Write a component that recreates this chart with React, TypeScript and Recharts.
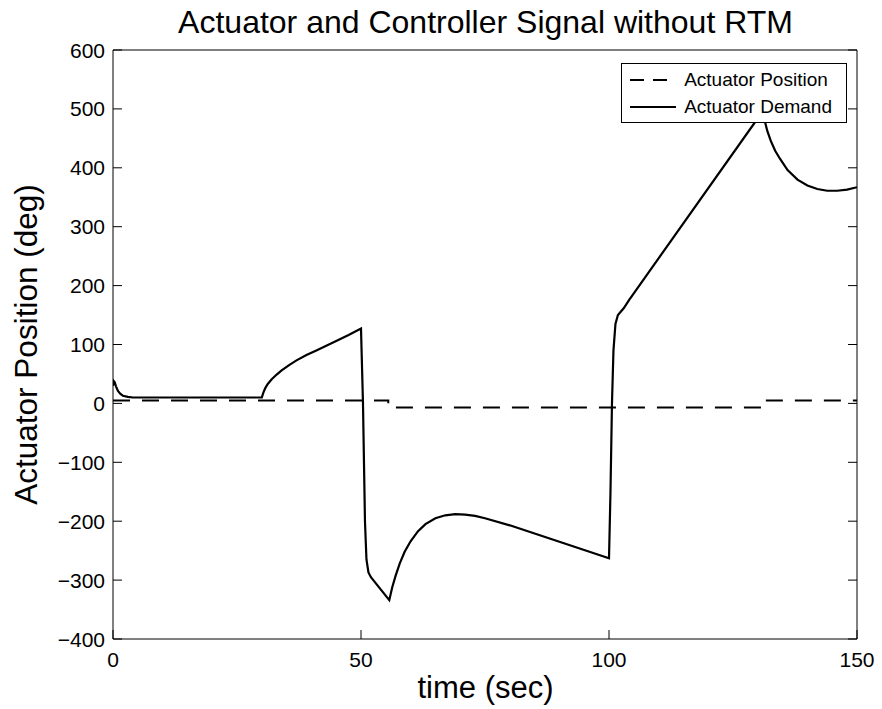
import React from "react";
import { LineChart, Line, XAxis, YAxis, Legend } from "recharts";

// time (sec) / actuator demand (deg)
const demandTime = [
  0, 0.15, 0.35, 0.6, 1, 1.5, 2, 3, 4, 30, 30.3, 30.7, 31.2, 32, 33, 34, 35.5,
  37, 39, 41, 43, 45, 47.5, 50, 50.4, 50.8, 51.1, 51.5, 52, 55.7, 56.3, 57,
  57.8, 58.8, 60, 61.5, 63, 65, 67, 69, 71, 73, 75, 80, 90, 100, 100.3, 100.6,
  100.9, 101.3, 101.8, 103, 104, 131, 131.4, 131.9, 132.6, 133.5, 134.5, 136,
  138, 140, 142, 144, 146, 148, 150,
];
const demandValues = [
  30, 38, 36, 29, 21, 16, 13, 11, 10, 10, 18, 26, 33, 41, 49, 56, 65, 73, 82,
  90, 98, 106, 116, 127, 0, -200, -265, -287, -295, -334, -312, -292, -272,
  -252, -234, -217, -205, -195, -190, -188, -189, -191, -195, -207, -235,
  -263, -150, 0, 90, 135, 150, 162, 175, 496, 480, 463, 446, 429, 415, 396,
  380, 370, 364, 361, 361, 363, 367,
];

// actuator position (deg), piecewise constant
const positionTime = [0, 55.5, 131, 150];
const positionValues = [5, -7, 5, 5];

const xTicks = [0, 50, 100, 150];
const yTicks = [-400, -300, -200, -100, 0, 100, 200, 300, 400, 500, 600];

const seriesNames = ["Actuator Position", "Actuator Demand"];

const demandData = demandTime.map((t, i) => ({ t, v: demandValues[i] }));
const positionData = positionTime.map((t, i) => ({ t, v: positionValues[i] }));

const FONT = '"Liberation Sans", Arial, Helvetica, sans-serif';
const TICK_LEN = 9;

function fmt(v: number) {
  return v < 0 ? `\u2212${Math.abs(v)}` : `${v}`;
}

function LeftTick(props: any) {
  const { x, y, payload } = props;
  return (
    <g>
      <text x={x} y={y} dy="0.36em" textAnchor="end" fontSize={21} fill="#000" fontFamily={FONT}>
        {fmt(payload.value)}
      </text>
      <line x1={x + 8} x2={x + 8 + TICK_LEN} y1={y} y2={y} stroke="#000" strokeWidth={1} />
    </g>
  );
}

function RightTick(props: any) {
  const { x, y } = props;
  return <line x1={x} x2={x - TICK_LEN} y1={y} y2={y} stroke="#000" strokeWidth={1} />;
}

function BottomTick(props: any) {
  const { x, y, payload } = props;
  return (
    <g>
      <text x={x} y={y + 28} textAnchor="middle" fontSize={21} fill="#000" fontFamily={FONT}>
        {fmt(payload.value)}
      </text>
      <line x1={x} x2={x} y1={y} y2={y - TICK_LEN} stroke="#000" strokeWidth={1} />
    </g>
  );
}

function TopTick(props: any) {
  const { x, y } = props;
  return <line x1={x} x2={x} y1={y} y2={y + TICK_LEN} stroke="#000" strokeWidth={1} />;
}

function LegendBox() {
  return (
    <div
      style={{
        border: "1px solid #000",
        background: "#fff",
        padding: "2px 14px 2px 8px",
        fontFamily: FONT,
        fontSize: 19,
        lineHeight: "27px",
        color: "#000",
      }}
    >
      {seriesNames.map((name, i) => (
        <div key={name} style={{ display: "flex", alignItems: "center", whiteSpace: "nowrap" }}>
          <svg width={46} height={10} style={{ marginRight: 8 }}>
            <line
              x1={0}
              x2={46}
              y1={5}
              y2={5}
              stroke="#000"
              strokeWidth={2}
              strokeDasharray={i === 0 ? "14 9" : undefined}
            />
          </svg>
          <span>{name}</span>
        </div>
      ))}
    </div>
  );
}

export default function App() {
  return (
    <div
      style={{
        position: "absolute",
        left: 0,
        top: 0,
        width: 882,
        height: 709,
        background: "#fff",
        fontFamily: FONT,
      }}
    >
      <LineChart width={882} height={709} margin={{ top: 49, right: 24, left: 0, bottom: 0 }}>
        <XAxis
          xAxisId={0}
          type="number"
          dataKey="t"
          domain={[0, 150]}
          ticks={xTicks}
          allowDataOverflow
          height={70}
          tickSize={0}
          tickMargin={0}
          tickLine={false}
          axisLine={{ stroke: "#000", strokeWidth: 1 }}
          tick={<BottomTick />}
          interval={0}
        />
        <XAxis
          xAxisId="top"
          orientation="top"
          type="number"
          domain={[0, 150]}
          ticks={xTicks}
          allowDataOverflow
          height={1}
          tickSize={0}
          tickMargin={0}
          tickLine={false}
          axisLine={{ stroke: "#000", strokeWidth: 1 }}
          tick={<TopTick />}
          interval={0}
        />
        <YAxis
          yAxisId={0}
          type="number"
          domain={[-400, 600]}
          ticks={yTicks}
          allowDataOverflow
          width={113}
          tickSize={0}
          tickMargin={8}
          tickLine={false}
          axisLine={{ stroke: "#000", strokeWidth: 1 }}
          tick={<LeftTick />}
          interval={0}
        />
        <YAxis
          yAxisId="right"
          orientation="right"
          type="number"
          domain={[-400, 600]}
          ticks={yTicks}
          allowDataOverflow
          width={1}
          tickSize={0}
          tickMargin={0}
          tickLine={false}
          axisLine={{ stroke: "#000", strokeWidth: 1 }}
          tick={<RightTick />}
          interval={0}
        />
        <Line
          data={positionData}
          dataKey="v"
          type="stepAfter"
          stroke="#000"
          strokeWidth={2}
          strokeDasharray="17 12"
          dot={false}
          isAnimationActive={false}
        />
        <Line
          data={demandData}
          dataKey="v"
          type="linear"
          stroke="#000"
          strokeWidth={2.2}
          dot={false}
          isAnimationActive={false}
        />
        <Legend
          layout="vertical"
          align="center"
          verticalAlign="middle"
          content={<LegendBox />}
          wrapperStyle={{ top: 63, right: 35, left: "auto", bottom: "auto", width: "auto" }}
        />
      </LineChart>
      <svg
        width={882}
        height={709}
        style={{ position: "absolute", left: 0, top: 0, pointerEvents: "none" }}
      >
        <text x={485.5} y={33} textAnchor="middle" fontSize={32} fontFamily={FONT} fill="#000">
          Actuator and Controller Signal without RTM
        </text>
        <text x={485.5} y={698} textAnchor="middle" fontSize={31} fontFamily={FONT} fill="#000">
          time (sec)
        </text>
        <text
          x={37}
          y={344.5}
          textAnchor="middle"
          fontSize={31.5}
          fontFamily={FONT}
          fill="#000"
          transform="rotate(-90 37 344.5)"
        >
          Actuator Position (deg)
        </text>
      </svg>
    </div>
  );
}
